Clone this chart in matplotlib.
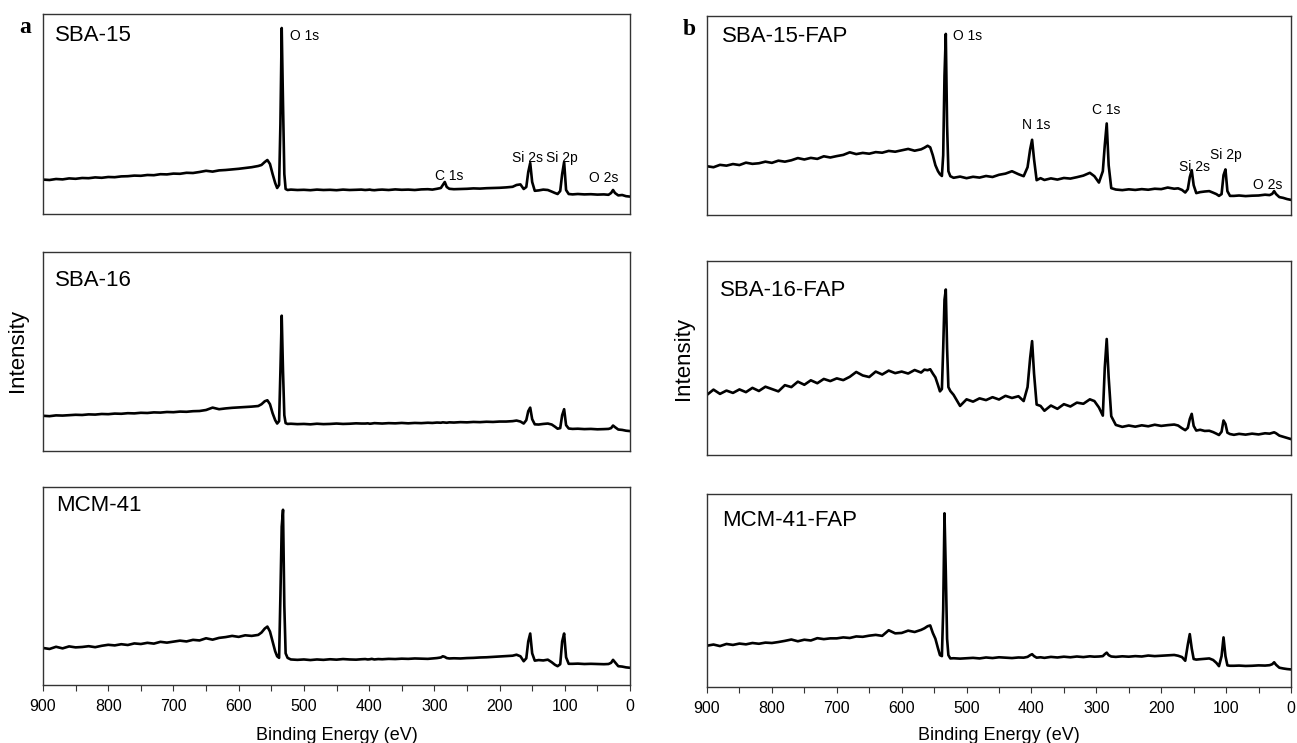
import matplotlib
matplotlib.use("Agg")
import matplotlib.pyplot as plt
from matplotlib.ticker import MultipleLocator

plt.rcParams['font.family'] = ['Liberation Sans', 'DejaVu Sans']

# binding energy grid (eV), denser around the peaks
energy = [900, 890, 880, 870, 860, 850, 840, 830, 820, 810,
          800, 790, 780, 770, 760, 750, 740, 730, 720, 710,
          700, 690, 680, 670, 660, 650, 640, 630, 620, 610,
          600, 590, 580, 570, 565, 560, 556, 552, 548, 544,
          541, 538, 536, 534, 532, 530, 528, 525, 520, 510,
          500, 490, 480, 470, 460, 450, 440, 430, 420, 412,
          406, 402, 399, 396, 392, 386, 380, 370, 360, 350,
          340, 330, 320, 310, 303, 296, 290, 287, 284, 281,
          277, 270, 260, 250, 240, 230, 220, 210, 200, 190,
          180, 174, 168, 163, 159, 156, 153, 150, 146, 140,
          133, 126, 120, 115, 111, 107, 104, 101, 98, 94,
          88, 80, 70, 60, 50, 40, 33, 29, 26, 23,
          18, 12, 6, 0]

# intensities, read as % of each panel height
sba15 = [17.2, 17.0, 17.5, 17.3, 17.8, 17.6, 18.0, 17.9, 18.3, 18.1,
         18.5, 18.4, 18.8, 18.9, 19.2, 19.1, 19.5, 19.4, 19.9, 19.8,
         20.2, 20.1, 20.6, 20.5, 21.0, 21.6, 21.2, 21.8, 22.0, 22.3,
         22.6, 23.0, 23.4, 24.0, 24.5, 26.0, 27.0, 25.0, 20.0, 15.5,
         13.0, 14.5, 45.0, 93.0, 55.0, 20.0, 12.5, 12.0, 12.2, 12.0,
         12.1, 11.9, 12.2, 12.0, 12.1, 11.9, 12.2, 12.0, 12.1, 12.2,
         12.0, 12.1, 12.2, 12.0, 11.9, 12.1, 12.2, 12.0, 12.3, 12.1,
         12.2, 12.0, 12.3, 12.4, 12.2, 12.6, 13.0, 14.5, 16.0, 13.5,
         12.6, 12.4, 12.5, 12.6, 12.8, 12.7, 12.9, 13.0, 13.1, 13.3,
         13.6, 14.5, 14.8, 12.5, 13.5, 21.0, 25.5, 16.0, 11.6, 11.8,
         12.2, 12.0, 11.2, 10.5, 10.0, 11.5, 20.0, 26.0, 12.0, 10.0,
         9.8, 10.0, 9.8, 9.9, 9.7, 9.8, 9.6, 10.5, 12.0, 10.5,
         9.3, 9.5, 8.9, 8.7]

sba16 = [17.7, 17.5, 17.9, 17.8, 18.0, 18.2, 18.1, 18.4, 18.3, 18.6,
         18.5, 18.8, 18.7, 19.0, 18.9, 19.2, 19.1, 19.4, 19.3, 19.6,
         19.5, 19.8, 19.7, 20.0, 20.1, 20.6, 21.8, 21.0, 21.4, 21.7,
         21.9, 22.1, 22.3, 22.6, 23.5, 25.0, 25.5, 23.5, 19.0, 15.5,
         13.8, 15.0, 40.0, 68.0, 40.0, 18.0, 14.0, 13.6, 13.7, 13.5,
         13.6, 13.4, 13.7, 13.5, 13.6, 13.8, 13.6, 13.7, 13.9, 13.8,
         13.8, 13.9, 13.7, 13.8, 14.0, 13.9, 13.8, 14.0, 13.9, 14.1,
         13.9, 14.1, 14.0, 14.2, 14.1, 14.3, 14.2, 14.4, 14.3, 14.2,
         14.4, 14.3, 14.5, 14.4, 14.6, 14.5, 14.7, 14.6, 14.8, 14.8,
         15.0, 15.3, 14.8, 13.8, 15.5, 20.0, 21.8, 16.0, 13.4, 13.3,
         13.6, 13.8, 13.3, 12.2, 11.2, 11.5, 18.0, 21.0, 13.0, 11.3,
         11.1, 11.2, 11.0, 11.1, 10.9, 11.0, 11.1, 11.5, 12.8, 12.0,
         10.8, 10.6, 10.2, 10.0]

mcm41 = [18.7, 18.2, 19.3, 18.5, 19.5, 19.0, 19.2, 19.6, 19.1, 19.8,
         20.3, 20.0, 20.6, 20.2, 21.0, 20.7, 21.3, 20.9, 21.8, 21.4,
         21.9, 22.4, 22.0, 22.8, 22.5, 23.6, 22.9, 23.8, 24.2, 24.8,
         24.3, 25.1, 24.8, 25.3, 26.5, 28.5, 29.5, 27.0, 22.0, 17.0,
         14.5, 13.7, 45.0, 80.0, 88.5, 40.0, 16.0, 13.7, 12.9, 12.7,
         12.9, 12.6, 12.9, 12.7, 13.0, 12.8, 13.1, 12.9, 12.8, 13.0,
         13.1, 12.9, 13.0, 13.2, 12.9, 13.1, 13.0, 13.2, 13.1, 13.3,
         13.2, 13.4, 13.3, 13.2, 13.4, 13.6, 13.9, 14.5, 14.2, 13.6,
         13.4, 13.5, 13.4, 13.6, 13.7, 13.9, 14.0, 14.2, 14.4, 14.6,
         14.8, 15.3, 14.5, 12.0, 13.5, 22.0, 26.0, 16.0, 12.3, 12.6,
         12.4, 12.8, 11.5, 10.2, 9.5, 10.5, 22.0, 26.0, 14.0, 10.7,
         10.7, 10.8, 10.6, 10.7, 10.6, 10.5, 10.6, 11.2, 12.7, 11.5,
         9.5, 9.3, 8.9, 8.7]

sba15_fap = [24.5, 24.0, 25.2, 24.8, 25.6, 25.1, 26.3, 25.7, 26.0, 26.8,
             26.2, 27.3, 26.8, 27.5, 28.6, 27.9, 28.7, 28.2, 29.5, 28.9,
             29.6, 30.2, 31.5, 30.6, 31.2, 30.8, 31.6, 31.3, 32.2, 31.8,
             32.5, 33.2, 32.3, 33.0, 33.8, 34.8, 34.0, 30.0, 25.0, 22.0,
             20.5, 19.6, 30.0, 70.0, 91.0, 45.0, 22.0, 19.5, 18.7, 19.3,
             18.5, 19.2, 18.8, 19.6, 19.1, 20.2, 20.8, 22.0, 20.5, 19.5,
             24.0, 33.0, 37.8, 28.0, 17.5, 18.5, 17.6, 18.4, 17.8, 18.6,
             18.3, 19.0, 19.8, 21.2, 19.5, 16.3, 22.0, 35.0, 46.0, 25.0,
             13.5, 12.8, 12.5, 12.9, 12.6, 13.0, 12.7, 13.2, 13.0, 13.8,
             13.2, 13.4, 12.6, 11.3, 13.0, 19.0, 22.5, 15.0, 11.0, 11.5,
             11.8, 12.0, 11.2, 10.5, 9.6, 10.5, 20.0, 22.9, 12.0, 9.6,
             9.6, 9.8, 9.5, 9.7, 9.8, 10.2, 10.0, 10.6, 12.0, 10.5,
             9.0, 8.6, 8.0, 7.6]

sba16_fap = [31.0, 33.7, 31.5, 33.2, 32.0, 33.8, 32.4, 34.6, 33.0, 35.2,
             34.0, 32.8, 36.0, 35.0, 37.8, 36.2, 38.5, 37.0, 39.2, 38.1,
             39.5, 38.6, 40.3, 42.8, 41.0, 40.2, 43.0, 41.5, 43.5, 42.2,
             43.0, 42.0, 43.8, 42.5, 44.0, 43.7, 44.2, 42.0, 40.0, 36.0,
             32.8, 34.0, 55.0, 80.0, 85.3, 55.0, 35.0, 33.0, 31.0, 25.3,
             28.7, 27.5, 29.2, 28.3, 29.8, 28.6, 30.5, 29.4, 30.3, 27.8,
             35.0, 50.0, 58.7, 42.0, 26.0, 25.3, 22.8, 25.5, 23.8, 26.2,
             25.0, 27.0, 26.4, 28.7, 27.8, 24.5, 20.3, 45.0, 59.8, 40.0,
             20.0, 15.5, 14.5, 15.2, 14.6, 15.3, 14.8, 15.6, 15.0, 15.4,
             15.7, 15.2, 13.8, 12.8, 14.0, 18.5, 21.2, 15.0, 12.6, 13.0,
             12.4, 12.5, 11.8, 11.0, 10.3, 12.0, 17.8, 16.0, 11.5, 10.8,
             10.4, 10.9, 10.5, 11.0, 10.6, 11.2, 11.0, 11.4, 11.7, 11.2,
             10.0, 9.4, 8.8, 8.2]

mcm41_fap = [21.4, 22.0, 21.2, 22.3, 21.8, 22.5, 22.1, 22.8, 22.4, 23.0,
             22.8, 23.3, 23.9, 24.6, 23.7, 24.5, 24.1, 25.3, 24.8, 25.2,
             25.2, 25.7, 25.4, 26.2, 26.0, 26.6, 27.0, 26.5, 29.4, 27.8,
             28.0, 29.2, 28.5, 29.6, 30.4, 31.5, 31.9, 28.0, 25.0, 20.0,
             16.5, 16.0, 40.0, 90.0, 60.0, 25.0, 16.5, 14.8, 14.9, 14.7,
             14.9, 15.1, 14.8, 15.3, 15.0, 15.4, 15.2, 15.0, 15.3, 15.2,
             15.6, 16.5, 17.0, 16.0, 15.2, 15.4, 15.1, 15.6, 15.3, 15.7,
             15.4, 15.8, 15.5, 15.9, 15.7, 15.8, 16.0, 17.0, 17.8, 16.5,
             15.8, 15.6, 15.9, 15.7, 16.0, 15.8, 16.3, 16.0, 16.2, 16.4,
             16.6, 16.2, 15.5, 13.6, 22.0, 27.4, 20.0, 14.5, 14.2, 14.4,
             14.6, 14.8, 14.0, 12.5, 10.8, 16.0, 25.7, 16.0, 11.2, 11.0,
             11.0, 11.1, 10.9, 11.0, 11.2, 11.1, 11.3, 11.8, 12.8, 11.5,
             10.0, 9.6, 9.3, 9.1]

sample_names = ["SBA-15", "SBA-16", "MCM-41",
                "SBA-15-FAP", "SBA-16-FAP", "MCM-41-FAP"]
spectra = [sba15, sba16, mcm41, sba15_fap, sba16_fap, mcm41_fap]

# peak labels: (text, energy, intensity, alignment)
peaks_sba15 = [("O 1s", 521, 89, "left"), ("C 1s", 277, 19, "center"),
               ("Si 2s", 157, 28, "center"), ("Si 2p", 104, 28, "center"),
               ("O 2s", 40, 18, "center")]
peaks_sba15_fap = [("O 1s", 521, 90, "left"), ("N 1s", 392, 45, "center"),
                   ("C 1s", 285, 53, "center"), ("Si 2s", 149, 24, "center"),
                   ("Si 2p", 100, 30, "center"), ("O 2s", 36, 15, "center")]

W, H = 1297, 743
fig = plt.figure(figsize=(W / 100, H / 100), dpi=100)


def px_axes(x0, x1, y0, y1):
    return fig.add_axes([x0 / W, 1 - y1 / H, (x1 - x0) / W, (y1 - y0) / H])


# pixel boxes of the six panels (left, right, top, bottom)
boxes = [(43, 630, 14, 214), (43, 630, 252, 451), (43, 630, 487, 685),
         (707, 1291, 16, 215), (707, 1291, 261, 455), (707, 1291, 494, 687)]
name_pos = [(0.020, 0.89), (0.020, 0.855), (0.022, 0.905),
            (0.025, 0.895), (0.023, 0.85), (0.026, 0.865)]

axes = []
for i, (name, spec) in enumerate(zip(sample_names, spectra)):
    ax = px_axes(*boxes[i])
    ax.plot(energy, spec, color='black', lw=1.9)
    ax.set_xlim(900, 0)
    ax.set_ylim(0, 100)
    ax.set_yticks([])
    for sp in ax.spines.values():
        sp.set_color('#333333')
        sp.set_linewidth(1.0)
    if i % 3 == 2:
        ax.xaxis.set_major_locator(MultipleLocator(100))
        ax.xaxis.set_minor_locator(MultipleLocator(50))
        ax.tick_params(axis='x', which='both', direction='out', length=4,
                       width=0.8, color='#333333')
        ax.tick_params(axis='x', which='major', pad=6, labelsize=11.5)
    else:
        ax.set_xticks([])
    ax.text(name_pos[i][0], name_pos[i][1], name, transform=ax.transAxes,
            ha='left', va='center', fontsize=16)
    axes.append(ax)

for txt, e, y, ha in peaks_sba15:
    axes[0].text(e, y, txt, ha=ha, va='center', fontsize=10)
for txt, e, y, ha in peaks_sba15_fap:
    axes[3].text(e, y, txt, ha=ha, va='center', fontsize=10)

# axis titles and panel letters
for xc in [(43 + 630) / 2, (707 + 1291) / 2]:
    fig.text(xc / W, 1 - 736 / H, "Binding Energy (eV)", ha='center',
             va='center', fontsize=13)
fig.text(17 / W, 1 - 351 / H, "Intensity", rotation=90, ha='center',
         va='center', fontsize=16)
fig.text(683 / W, 1 - 358 / H, "Intensity", rotation=90, ha='center',
         va='center', fontsize=16)
fig.text(25 / W, 1 - 33 / H, "a", ha='center', va='baseline', fontsize=17,
         fontweight='bold', family=['Liberation Serif', 'DejaVu Serif'])
fig.text(689 / W, 1 - 35 / H, "b", ha='center', va='baseline', fontsize=17,
         fontweight='bold', family=['Liberation Serif', 'DejaVu Serif'])

fig.savefig("out.png", dpi=100)
